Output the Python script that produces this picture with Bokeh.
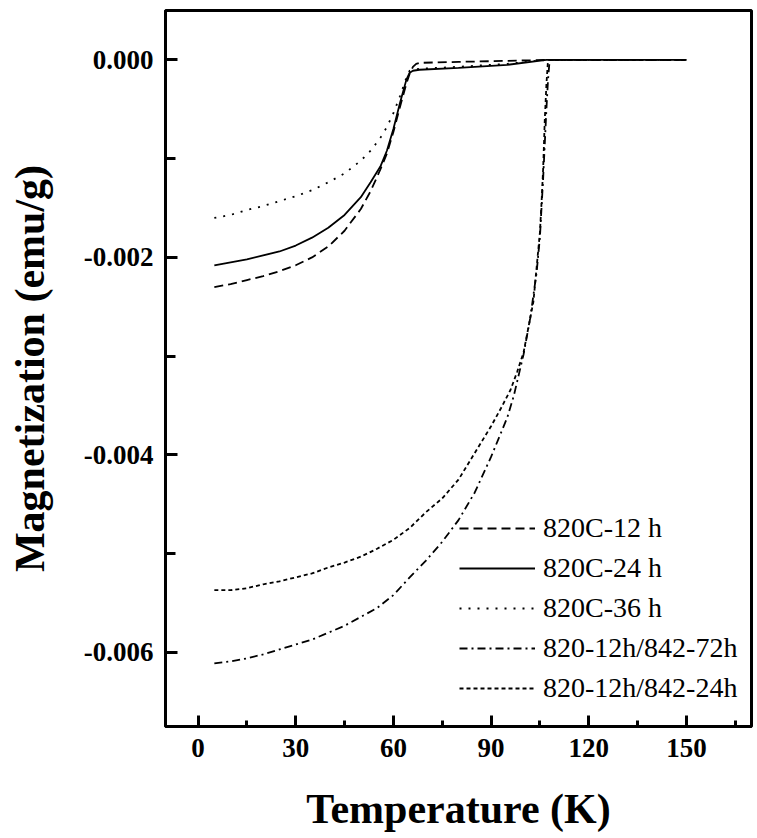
from bokeh.plotting import figure
from bokeh.models import (Legend, LegendItem, FixedTicker, NumeralTickFormatter, Range1d, LinearAxis)
from bokeh.embed import file_html
from bokeh.resources import INLINE

# ---------------- data ----------------
T_820C_12h = [5, 10, 15, 20, 25, 30, 35, 40, 45, 50, 53, 56, 58, 60, 62, 64, 65, 66, 67, 68, 80, 95, 107, 120, 135, 150]
M_820C_12h = [-0.00230, -0.00227, -0.00223, -0.00219, -0.00214, -0.00208, -0.00200, -0.00189, -0.00173,
              -0.00151, -0.00133, -0.00111, -0.00095, -0.00073, -0.00048, -0.00024, -0.00014, -0.00007,
              -0.00004, -0.00003, -0.00002, -0.00001, 0.0, 0.0, 0.0, 0.0]

T_820C_24h = [5, 10, 15, 20, 25, 30, 35, 40, 45, 50, 53, 56, 58, 60, 62, 64, 65, 66, 68, 80, 95, 107, 120, 135, 150]
M_820C_24h = [-0.00208, -0.00205, -0.00202, -0.00198, -0.00194, -0.00188, -0.00180, -0.00170, -0.00157,
              -0.00139, -0.00124, -0.00108, -0.00092, -0.00070, -0.00044, -0.00020, -0.00013, -0.00011,
              -0.00010, -0.00008, -0.00005, 0.0, 0.0, 0.0, 0.0]

T_820C_36h = [5, 10, 15, 20, 25, 30, 35, 40, 45, 50, 53, 56, 58, 60, 62, 64, 65, 66, 68, 80, 95, 107, 120, 135, 150]
M_820C_36h = [-0.00160, -0.00157, -0.00152, -0.00148, -0.00143, -0.00138, -0.00132, -0.00124, -0.00115,
              -0.00102, -0.00092, -0.00079, -0.00068, -0.00054, -0.00037, -0.00018, -0.00011, -0.00010,
              -0.00009, -0.00007, -0.00004, 0.0, 0.0, 0.0, 0.0]

T_842_72h = [5, 10, 15, 20, 25, 30, 35, 40, 45, 50, 55, 60, 65, 70, 75, 80, 85, 90, 95, 97, 100, 102,
             104, 105, 106, 107, 107.5, 108, 120, 135, 150]
M_842_72h = [-0.00611, -0.00609, -0.00606, -0.00602, -0.00597, -0.00592, -0.00587, -0.00580, -0.00573,
             -0.00564, -0.00555, -0.00542, -0.00524, -0.00507, -0.00488, -0.00466, -0.00438, -0.00402,
             -0.00362, -0.00340, -0.00298, -0.00262, -0.00215, -0.00180, -0.00120, -0.00050, -0.00020,
             0.0, 0.0, 0.0, 0.0]

T_842_24h = [5, 10, 15, 20, 25, 30, 35, 40, 45, 50, 55, 60, 65, 70, 75, 80, 85, 90, 93, 96, 98, 100,
             102, 103, 104, 105, 105.5, 106, 106.5, 107, 107.5, 120, 135, 150]
M_842_24h = [-0.00537, -0.00537, -0.00535, -0.00531, -0.00528, -0.00524, -0.00520, -0.00514, -0.00509,
             -0.00503, -0.00495, -0.00486, -0.00474, -0.00458, -0.00444, -0.00425, -0.00398, -0.00371,
             -0.00353, -0.00334, -0.00316, -0.00296, -0.00262, -0.00245, -0.00210, -0.00175, -0.00145,
             -0.00110, -0.00061, -0.00025, 0.0, 0.0, 0.0, 0.0]

labels = ["820C-12 h", "820C-24 h", "820C-36 h", "820-12h/842-72h", "820-12h/842-24h"]

# tick positions
x_major_ticks = [0, 30, 60, 90, 120, 150]
x_minor_ticks = [15, 45, 75, 105, 135, 165]
y_major_ticks = [0.0, -0.002, -0.004, -0.006]
y_minor_ticks = [-0.001, -0.003, -0.005]

x_title = "Temperature (K)"
y_title = "Magnetization (emu/g)"

X_MIN, X_MAX = -10, 170
Y_MIN, Y_MAX = -0.00675, 0.0005

# ---------------- figure ----------------
FONT = "Liberation Serif"
p = figure(width=757, height=838, output_backend="svg", toolbar_location=None,
           x_range=Range1d(X_MIN, X_MAX), y_range=Range1d(Y_MIN, Y_MAX),
           min_border_left=165, min_border_right=6, min_border_top=10, min_border_bottom=112)
p.background_fill_color = None
p.border_fill_color = None
p.grid.visible = False
p.outline_line_color = "black"
p.outline_line_width = 3

# label axes (left / below)
xax = p.below[0]
yax = p.left[0]
xax.ticker = FixedTicker(ticks=x_major_ticks)
yax.ticker = FixedTicker(ticks=y_major_ticks)
yax.formatter = NumeralTickFormatter(format="0.000")
for ax in (xax, yax):
    ax.axis_line_color = "black"
    ax.axis_line_width = 3
    ax.major_tick_line_color = None
    ax.minor_tick_line_color = None
    ax.major_tick_in = 0
    ax.major_tick_out = 0
    ax.minor_tick_in = 0
    ax.minor_tick_out = 0
    ax.major_label_text_font = FONT
    ax.major_label_text_font_style = "bold"
    ax.major_label_text_font_size = "27px"
    ax.major_label_text_color = "black"
    ax.axis_label_text_font = FONT
    ax.axis_label_text_font_style = "bold"
    ax.axis_label_text_font_size = "42px"
    ax.axis_label_text_color = "black"
    ax.major_label_standoff = 12
    if "background_fill_color" in ax.properties():
        ax.background_fill_color = None
xax.axis_label = x_title
yax.axis_label = y_title
xax.axis_label_standoff = 26
yax.axis_label_standoff = 28


# tick axes: placed in the opposite (otherwise empty) panels but fixed on the
# bottom / left frame edges, so their "outer" ticks point into the frame
def tick_axis(loc, fixed, majors, minors, major_len, minor_len):
    ax = LinearAxis(ticker=FixedTicker(ticks=majors, minor_ticks=minors), fixed_location=fixed)
    ax.axis_line_color = "black"
    ax.axis_line_width = 3
    ax.major_tick_in = 0
    ax.major_tick_out = major_len
    ax.minor_tick_in = 0
    ax.minor_tick_out = minor_len
    ax.major_tick_line_width = 3
    ax.minor_tick_line_width = 3
    ax.major_tick_line_color = "black"
    ax.minor_tick_line_color = "black"
    ax.major_label_text_color = None
    ax.major_label_text_font_size = "1px"
    ax.major_label_standoff = 0
    ax.axis_label_standoff = 0
    p.add_layout(ax, loc)


tick_axis("above", Y_MIN, x_major_ticks, x_minor_ticks, 11, 6)
tick_axis("right", X_MIN, y_major_ticks, y_minor_ticks, 12, 10)

r1 = p.line(T_820C_12h, M_820C_12h, line_color="black", line_width=1.8, line_dash="9 5")
r2 = p.line(T_820C_24h, M_820C_24h, line_color="black", line_width=1.8)
r3 = p.line(T_820C_36h, M_820C_36h, line_color="black", line_width=1.8, line_dash="2 7")
r4 = p.line(T_842_72h, M_842_72h, line_color="black", line_width=1.8, line_dash="8 4 2 4")
r5 = p.line(T_842_24h, M_842_24h, line_color="black", line_width=1.8, line_dash="4 3")

legend = Legend(items=[LegendItem(label=l, renderers=[r]) for l, r in zip(labels, [r1, r2, r3, r4, r5])],
                location=(294, 22))
legend.background_fill_alpha = 0
legend.border_line_color = None
legend.label_text_font = FONT
legend.label_text_font_size = "28px"
legend.label_text_color = "black"
legend.glyph_width = 76
legend.glyph_height = 20
legend.label_standoff = 8
legend.padding = 0
legend.margin = 0
legend.spacing = 8
p.add_layout(legend, "center")

open("out.html", "w").write(file_html(p, INLINE))
